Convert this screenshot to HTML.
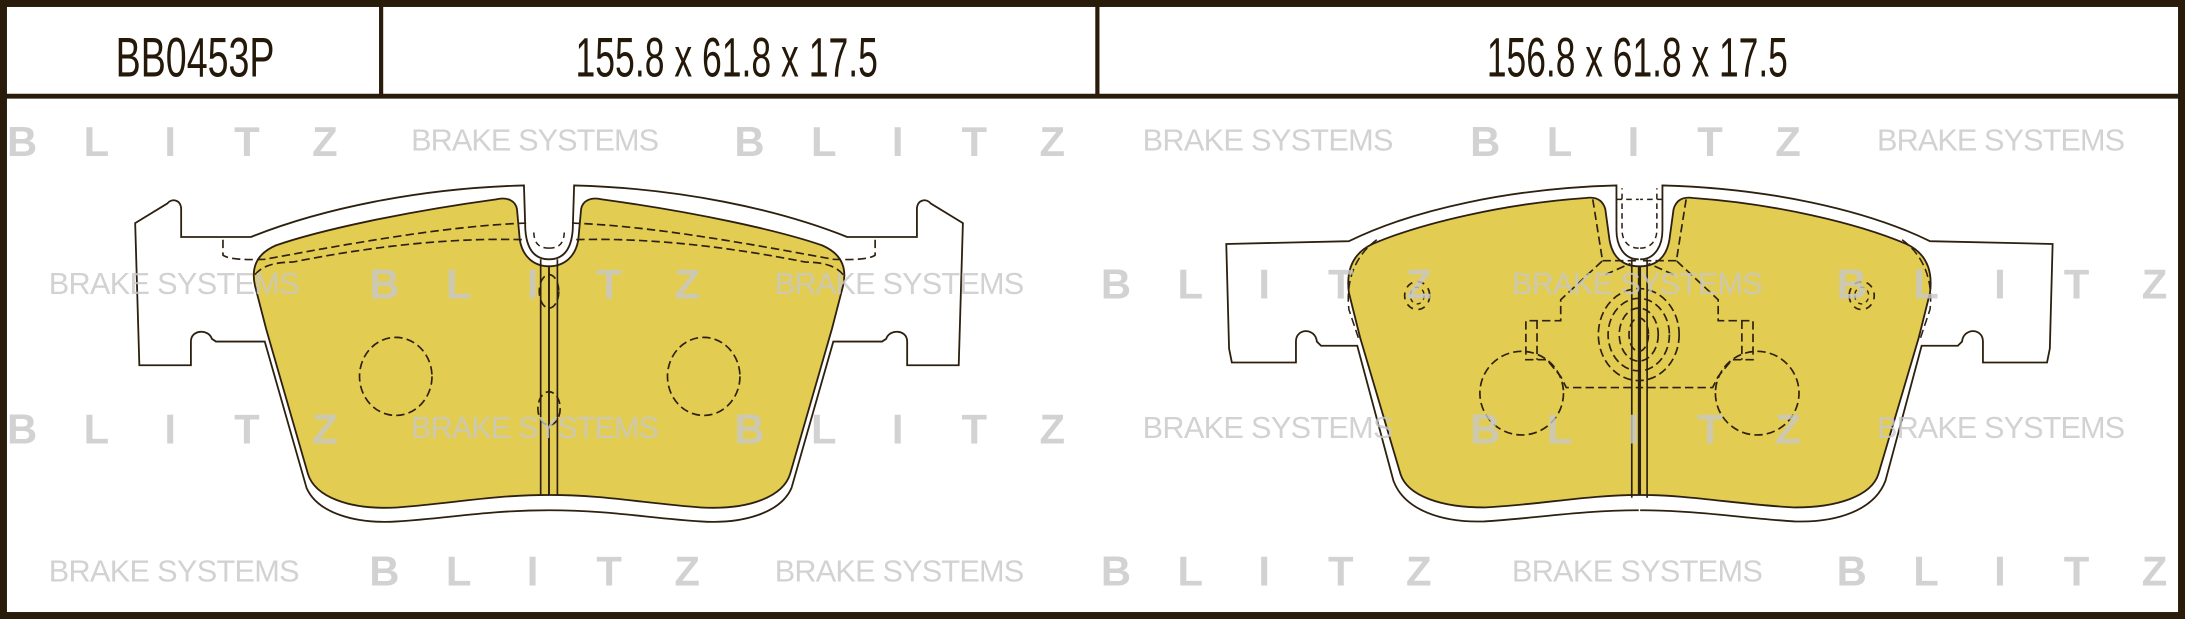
<!DOCTYPE html>
<html><head><meta charset="utf-8"><style>
html,body{margin:0;padding:0;background:#fff;}
svg{display:block;}
</style></head><body>
<svg width="2185" height="619" viewBox="0 0 1568 444" preserveAspectRatio="none" xmlns="http://www.w3.org/2000/svg">
<rect x="0" y="0" width="1568" height="444" fill="#fff"/>
<!-- header text -->
<g font-family="'Liberation Sans Narrow','Liberation Sans',sans-serif" fill="#241809" font-size="40">
<text x="83" y="55" textLength="114" lengthAdjust="spacingAndGlyphs">BB0453P</text>
<text x="413" y="55" textLength="217" lengthAdjust="spacingAndGlyphs">155.8 x 61.8 x 17.5</text>
<text x="1067" y="55" textLength="216" lengthAdjust="spacingAndGlyphs">156.8 x 61.8 x 17.5</text>
</g>

<!-- pads fills -->
<defs>
<g id="lplate">
<path d="M394,186 C383,186 378,178 377,165 L376,133 C300,135 230,150 180,170 L130,170 L130,150 C130,143 123,142 120,146 L97,160 L100,262 L137,262 L137,245 C137,236 150,236 152,243 L155,245 L190,245 L220,350 C228,368 255,376 285,374 C320,372 350,366 394,366" fill="#fff" stroke="#2e2010" stroke-width="1.3"/>
<path d="M394,191 C383,191 375,184 373,172 L371,150 C370,144 364,141 356,143 C290,152 230,165 198,176 C184,182 180,192 183,205 L191,236 L221,340 C226,356 250,366 285,364 C325,361 355,355 394,355 Z" fill="#e2cc52" stroke="#2e2010" stroke-width="1.3"/>
<path d="M160,172 L160,183 Q165,187 190,186 C250,175 320,162 378,160" fill="none" stroke="#2e2010" stroke-width="1.2" stroke-dasharray="6,3"/>
<path d="M183,197 Q190,188 210,188 C260,178 320,170 378,172" fill="none" stroke="#2e2010" stroke-width="1.2" stroke-dasharray="6,3"/>
<path d="M394,178 C386,178 383,174 383,165" fill="none" stroke="#2e2010" stroke-width="1.1" stroke-dasharray="4,3"/>
</g>
<g id="rplate">
<path d="M1176,186 C1165,186 1160,176 1160,165 L1160,133 C1085,135 1015,150 968,173 L880,175 L882,250 L884,260 L930,260 L930,245 C930,235 944,235 945,245 L948,248 L974,248 L1000,345 C1008,366 1035,375 1065,374 C1100,372 1135,366 1176,366" fill="#fff" stroke="#2e2010" stroke-width="1.3"/>
<path d="M1176,191 C1164,191 1157,184 1155,172 L1152,150 C1150,143 1145,141 1138,142 C1080,146 1020,160 985,175 C970,182 966,195 968,210 L976,242 L1005,340 C1010,356 1035,364 1065,364 C1105,362 1140,355 1176,355 Z" fill="#e2cc52" stroke="#2e2010" stroke-width="1.3"/>
<path d="M988,172 C970,185 966,205 968,222 L975,243" fill="none" stroke="#2e2010" stroke-width="1.1" stroke-dasharray="6,3"/>
<path d="M1176,178 C1168,178 1164,172 1164,165 L1164,135" fill="none" stroke="#2e2010" stroke-width="1.1" stroke-dasharray="4,3"/>
<path d="M1160,143 L1176,143" fill="none" stroke="#2e2010" stroke-width="1.1" stroke-dasharray="4,3"/>
<path d="M1143,143 L1150,187 L1120,215 L1120,230 L1095,230 L1095,258 L1110,258 L1120,270 L1124,278 L1176,278" fill="none" stroke="#2e2010" stroke-width="1.2" stroke-dasharray="6,3"/>
<path d="M1150,187 L1176,187 M1152,197 L1170,189" fill="none" stroke="#2e2010" stroke-width="1.2" stroke-dasharray="6,3"/>
<path d="M1103,230 L1103,258" fill="none" stroke="#2e2010" stroke-width="1.2" stroke-dasharray="6,3"/>
<ellipse cx="1092" cy="282" rx="30" ry="30" fill="none" stroke="#2e2010" stroke-width="1.2" stroke-dasharray="6,3"/>
<ellipse cx="1017" cy="212" rx="9" ry="10" fill="none" stroke="#2e2010" stroke-width="1.2" stroke-dasharray="5,4"/>
<ellipse cx="1017" cy="212" rx="5" ry="6" fill="none" stroke="#2e2010" stroke-width="1" stroke-dasharray="3,3"/>
</g>
</defs>
<use href="#lplate"/>
<use href="#lplate" transform="translate(788,0) scale(-1,1)"/>
<use href="#rplate"/>
<use href="#rplate" transform="translate(2353,0) scale(-1,1)"/>

<!-- left pad details -->
<g fill="none" stroke="#2e2010" stroke-width="1.2">
<line x1="388" y1="186" x2="388" y2="355"/><line x1="400" y1="186" x2="400" y2="355"/>
<g stroke-dasharray="6,3">
<ellipse cx="284" cy="270" rx="26" ry="28"/>
<ellipse cx="505" cy="270" rx="26" ry="28"/>
<ellipse cx="394" cy="209" rx="7" ry="12"/>
<ellipse cx="394" cy="293" rx="8" ry="12"/>
</g>
<!-- right pad -->
<line x1="1171" y1="186" x2="1171" y2="357"/><line x1="1182" y1="186" x2="1182" y2="357"/>
<g stroke-dasharray="6,3">
<ellipse cx="1176" cy="240" rx="29" ry="33"/>
<ellipse cx="1176" cy="240" rx="22" ry="26"/>
<ellipse cx="1176" cy="240" rx="14" ry="19"/>
<ellipse cx="1176" cy="240" rx="7" ry="12"/>
</g>
</g>

<!-- watermarks -->
<g fill="#c8c8c8" opacity="0.8" font-family="'Liberation Sans',sans-serif">
<g font-weight="bold" font-size="30">
<text y="112"><tspan x="5">B</tspan><tspan x="60">L</tspan><tspan x="118">I</tspan><tspan x="168">T</tspan><tspan x="224">Z</tspan></text>
<text y="112"><tspan x="527">B</tspan><tspan x="582">L</tspan><tspan x="640">I</tspan><tspan x="690">T</tspan><tspan x="746">Z</tspan></text>
<text y="112"><tspan x="1055">B</tspan><tspan x="1110">L</tspan><tspan x="1168">I</tspan><tspan x="1218">T</tspan><tspan x="1274">Z</tspan></text>
<text y="318"><tspan x="5">B</tspan><tspan x="60">L</tspan><tspan x="118">I</tspan><tspan x="168">T</tspan><tspan x="224">Z</tspan></text>
<text y="318"><tspan x="527">B</tspan><tspan x="582">L</tspan><tspan x="640">I</tspan><tspan x="690">T</tspan><tspan x="746">Z</tspan></text>
<text y="318"><tspan x="1055">B</tspan><tspan x="1110">L</tspan><tspan x="1168">I</tspan><tspan x="1218">T</tspan><tspan x="1274">Z</tspan></text>
<text y="214"><tspan x="265">B</tspan><tspan x="320">L</tspan><tspan x="378">I</tspan><tspan x="428">T</tspan><tspan x="484">Z</tspan></text>
<text y="214"><tspan x="790">B</tspan><tspan x="845">L</tspan><tspan x="903">I</tspan><tspan x="953">T</tspan><tspan x="1009">Z</tspan></text>
<text y="214"><tspan x="1318">B</tspan><tspan x="1373">L</tspan><tspan x="1431">I</tspan><tspan x="1481">T</tspan><tspan x="1537">Z</tspan></text>
<text y="420"><tspan x="265">B</tspan><tspan x="320">L</tspan><tspan x="378">I</tspan><tspan x="428">T</tspan><tspan x="484">Z</tspan></text>
<text y="420"><tspan x="790">B</tspan><tspan x="845">L</tspan><tspan x="903">I</tspan><tspan x="953">T</tspan><tspan x="1009">Z</tspan></text>
<text y="420"><tspan x="1318">B</tspan><tspan x="1373">L</tspan><tspan x="1431">I</tspan><tspan x="1481">T</tspan><tspan x="1537">Z</tspan></text>
</g>
<g font-size="22" letter-spacing="5">
<text x="295" y="108" textLength="183">BRAKE SYSTEMS</text>
<text x="820" y="108" textLength="185">BRAKE SYSTEMS</text>
<text x="1347" y="108" textLength="183">BRAKE SYSTEMS</text>
<text x="295" y="314" textLength="183">BRAKE SYSTEMS</text>
<text x="820" y="314" textLength="185">BRAKE SYSTEMS</text>
<text x="1347" y="314" textLength="183">BRAKE SYSTEMS</text>
<text x="35" y="211" textLength="185">BRAKE SYSTEMS</text>
<text x="556" y="211" textLength="184">BRAKE SYSTEMS</text>
<text x="1085" y="211" textLength="185">BRAKE SYSTEMS</text>
<text x="35" y="417" textLength="185">BRAKE SYSTEMS</text>
<text x="556" y="417" textLength="184">BRAKE SYSTEMS</text>
<text x="1085" y="417" textLength="185">BRAKE SYSTEMS</text>
</g>
</g>

<!-- frame -->
<g stroke="#2a1c0a" fill="none">
<rect x="2.5" y="2.5" width="1563" height="439" stroke-width="5"/>
<line x1="0" y1="69" x2="1568" y2="69" stroke-width="3.5"/>
<line x1="273.5" y1="0" x2="273.5" y2="69" stroke-width="3"/>
<line x1="787.5" y1="0" x2="787.5" y2="69" stroke-width="3"/>
</g>
</svg>
</body></html>
